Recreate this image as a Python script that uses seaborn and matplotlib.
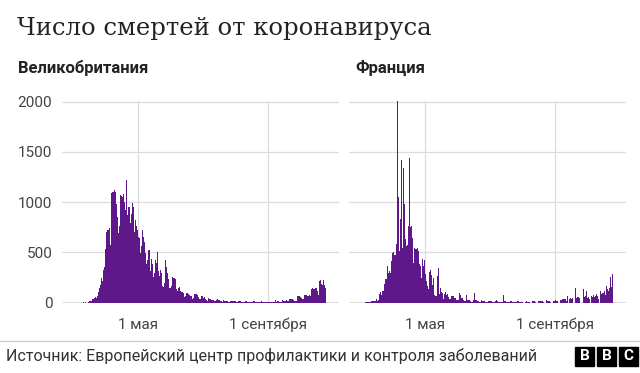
import numpy as np
import pandas as pd
import matplotlib
matplotlib.use("Agg")
import matplotlib.pyplot as plt
import matplotlib.dates as mdates
from matplotlib.patches import Rectangle
import seaborn as sns

# --------------------------
# Data (daily deaths), 1 Mar - 26 Oct 2020
# --------------------------
start_date = "2020-03-01"

uk_deaths = [
    # March
    0, 0, 0, 0, 1, 1, 0, 1, 1, 2, 1, 2, 1, 10, 14, 20, 16, 33, 40, 43,
    55, 50, 70, 110, 150, 180, 250, 220, 330, 360, 530,
    # April
    700, 720, 740, 570, 1090, 1100, 1105, 1120, 1100, 980,
    855, 690, 760, 1070, 1060, 1055, 1085, 1000, 920, 1220,
    870, 955, 790, 880, 990, 955, 700, 820, 760, 720,
    # May
    655, 640, 490, 560, 720, 655, 600, 490, 390, 420,
    520, 320, 430, 390, 255, 300, 420, 400, 500, 320,
    270, 330, 300, 170, 160, 200, 420, 360, 300, 240, 150,
    # June
    170, 260, 250, 245, 235, 140, 120, 150, 155, 120,
    110, 110, 100, 60, 70, 100, 100, 90, 80, 70,
    40, 50, 85, 85, 90, 80, 60, 40, 35, 70,
    # July
    65, 50, 55, 40, 25, 20, 45, 40, 35, 30,
    30, 20, 15, 30, 35, 25, 25, 20, 15, 10,
    25, 20, 20, 15, 15, 10, 8, 20, 15, 20, 15,
    # August
    20, 10, 5, 15, 20, 15, 10, 5, 5, 10,
    20, 15, 10, 10, 5, 5, 5, 10, 15, 10,
    5, 5, 5, 5, 10, 15, 10, 5, 5, 5, 10,
    # September
    5, 5, 10, 10, 10, 5, 5, 30, 10, 15,
    15, 10, 5, 10, 25, 20, 20, 20, 25, 20,
    20, 35, 35, 40, 35, 30, 20, 15, 70, 70,
    # October
    65, 60, 50, 35, 35, 75, 75, 80, 70, 65,
    80, 70, 140, 145, 135, 135, 150, 120, 80, 215,
    225, 190, 180, 230, 180, 150,
]

fr_deaths = [
    # March
    0, 1, 1, 1, 2, 2, 3, 2, 10, 3, 15, 13, 18, 12,
    36, 21, 27, 89, 108, 78, 112,
    112, 186, 240, 231, 365, 299, 319, 292, 418, 499,
    # April
    509, 471, 588, 2004, 1053, 518, 833, 1417, 541, 1341,
    987, 635, 561, 574, 762, 1438, 753, 761, 642, 395,
    547, 531, 544, 516, 389, 369, 242, 437, 367, 427,
    # May
    289, 218, 166, 135, 306, 330, 278, 178, 243, 80,
    70, 263, 348, 83, 150, 104, 96, 35, 90, 110,
    80, 90, 60, 40, 35, 70, 65, 65, 50, 45, 30,
    # June
    30, 95, 80, 45, 45, 30, 15, 15, 80, 30,
    25, 25, 20, 10, 10, 30, 95, 25, 25, 15,
    10, 10, 25, 20, 15, 20, 10, 5, 10, 20,
    # July
    20, 15, 15, 10, 5, 5, 15, 25, 15, 10,
    5, 5, 5, 75, 20, 15, 10, 5, 5, 5,
    15, 15, 10, 10, 5, 5, 5, 15, 15, 10, 10,
    # August
    10, 0, 0, 10, 15, 10, 10, 5, 0, 0,
    15, 15, 20, 10, 0, 0, 20, 15, 15, 15,
    10, 0, 0, 25, 15, 20, 15, 10, 0, 0, 20,
    # September
    20, 25, 20, 15, 0, 0, 30, 35, 40, 40,
    40, 20, 70, 0, 40, 45, 40, 50, 0, 0,
    145, 50, 55, 60, 50, 0, 0, 135, 55, 65,
    # October
    120, 50, 55, 40, 0, 70, 60, 80, 60, 70,
    85, 70, 40, 0, 120, 90, 100, 120, 80, 170,
    140, 120, 150, 260, 160, 290,
]

countries = ["Великобритания", "Франция"]
y_ticks = [0, 500, 1000, 1500, 2000]
x_tick_dates = ["2020-05-01", "2020-09-01"]
x_tick_labels = ["1 мая", "1 сентября"]

dates = pd.date_range(start_date, periods=len(uk_deaths), freq="D")
df = pd.DataFrame({
    "day": np.concatenate([mdates.date2num(dates), mdates.date2num(dates)]),
    "deaths": uk_deaths + fr_deaths,
    "country": [countries[0]] * len(uk_deaths) + [countries[1]] * len(fr_deaths),
})

# --------------------------
# Plot
# --------------------------
sns.set_theme(style="white")
plt.rcParams["font.family"] = ["Roboto", "DejaVu Sans"]

W, H = 640, 373
fig = plt.figure(figsize=(W / 100, H / 100), dpi=100)


def fy(y):
    return 1 - y / H


purple = "#5f1889"
may1 = mdates.date2num(pd.Timestamp("2020-05-01"))
x_lo, x_hi = may1 - 72.8, may1 + 123 + 67.9

ax_left = [62, 349]
label_x = [18, 355]
for i, country in enumerate(countries):
    ax = fig.add_axes([ax_left[i] / W, 70.3 / H, 277 / W, 202 / H])
    sub = df[df["country"] == country]
    sns.barplot(data=sub, x="day", y="deaths", native_scale=True, color=purple,
                saturation=1, width=1.0, linewidth=0, errorbar=None, ax=ax,
                zorder=3)
    ax.set_xlim(x_lo, x_hi)
    ax.set_ylim(0, 2010)
    ax.set_yticks(y_ticks)
    ax.set_xticks(mdates.date2num(pd.to_datetime(x_tick_dates)))
    ax.set_xticklabels(x_tick_labels)
    if i == 0:
        ax.set_yticklabels([str(v) for v in y_ticks])
    else:
        ax.set_yticklabels([])
    ax.set_xlabel("")
    ax.set_ylabel("")
    ax.grid(True, color="#dcdcdc", linewidth=0.9)
    ax.set_axisbelow(True)
    ax.axhline(0, color="#666666", linewidth=1.0, zorder=2)
    sns.despine(ax=ax, left=True, bottom=True)
    ax.tick_params(axis="y", length=0, pad=7, labelsize=11, labelcolor="#444444")
    ax.tick_params(axis="x", length=6, width=0.9, color="#dcdcdc", pad=5,
                   labelsize=11, labelcolor="#444444")
    fig.text(label_x[i] / W, fy(68), country,
             fontsize=12, fontweight="bold", color="#222222", va="center")

fig.text(17 / W, fy(29), "Число смертей от коронавируса", fontsize=17.5,
         family="DejaVu Serif", color="#222222", va="center")

# footer
fig.add_artist(plt.Line2D([0, 1], [fy(341), fy(341)], color="#cccccc", linewidth=1))
fig.text(6 / W, fy(356), "Источник: Европейский центр профилактики и контроля заболеваний",
         fontsize=11.5, color="#333333", va="center")
for k, letter in enumerate("BBC"):
    x0 = 575 + k * 22
    fig.add_artist(Rectangle((x0 / W, fy(366)), 19 / W, 19 / H, color="black",
                             transform=fig.transFigure))
    fig.text((x0 + 9.5) / W, fy(356.5), letter, color="white", fontsize=11,
             fontweight="bold", ha="center", va="center")

fig.savefig("out.png", dpi=100)
